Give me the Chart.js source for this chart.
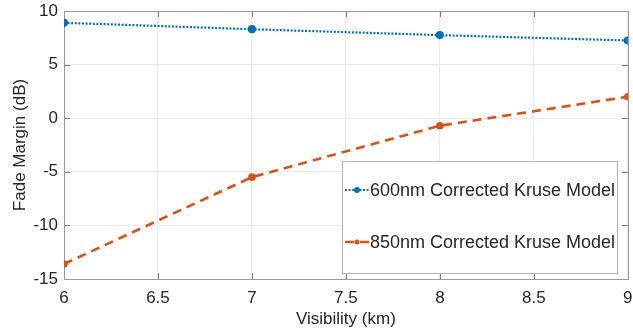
<!DOCTYPE html>
<html><head><meta charset="utf-8">
<script src="https://cdn.jsdelivr.net/npm/chart.js@4"></script>
<style>html,body{margin:0;padding:0;background:#fff}#wrap{width:633px;height:332px}</style>
</head><body><div id="wrap"><canvas id="c" width="633" height="332"></canvas></div>
<script>
const visibility = [6, 7, 8, 9];
const margin600 = [8.9, 8.3, 7.75, 7.25];
const margin850 = [-13.6, -5.5, -0.7, 2.0];
const xTickValues = [6, 6.5, 7, 7.5, 8, 8.5, 9];
const yTickValues = [-15, -10, -5, 0, 5, 10];
const seriesLabels = ['600nm Corrected Kruse Model', '850nm Corrected Kruse Model'];
const xTitle = 'Visibility (km)';
const yTitle = 'Fade Margin (dB)';

const FONT = "'Liberation Sans', Arial, Helvetica, sans-serif";
const TEXT = '#262626';

const boxPlugin = {
  id: 'box',
  beforeDatasetsDraw(chart) {
    const {ctx, chartArea: a, scales} = chart;
    ctx.save();
    ctx.strokeStyle = '#7a7a7a';
    ctx.lineWidth = 1;
    const tl = 6;
    ctx.beginPath();
    xTickValues.forEach(v => {
      const x = Math.round(scales.x.getPixelForValue(v)) + 0.5;
      ctx.moveTo(x, a.top); ctx.lineTo(x, a.top + tl);
      ctx.moveTo(x, a.bottom); ctx.lineTo(x, a.bottom - tl);
    });
    yTickValues.forEach(v => {
      const y = Math.round(scales.y.getPixelForValue(v)) + 0.5;
      ctx.moveTo(a.left, y); ctx.lineTo(a.left + tl, y);
      ctx.moveTo(a.right, y); ctx.lineTo(a.right - tl, y);
    });
    ctx.stroke();
    ctx.strokeStyle = '#9a9a9a';
    ctx.strokeRect(Math.round(a.left) + 0.5, Math.round(a.top) + 0.5,
      Math.round(a.right - a.left), Math.round(a.bottom - a.top));
    ctx.restore();
  }
};

const legendPlugin = {
  id: 'boxLegend',
  afterDatasetsDraw(chart) {
    const {ctx} = chart;
    const bx = 342, by = 161, bw = 275, bh = 112;
    ctx.save();
    ctx.fillStyle = '#fff';
    ctx.fillRect(bx, by, bw, bh);
    ctx.strokeStyle = '#b4b4b4';
    ctx.lineWidth = 1;
    ctx.strokeRect(bx + 0.5, by + 0.5, bw, bh);
    const rows = [190, 242];
    chart.data.datasets.forEach((ds, i) => {
      const y = rows[i];
      ctx.strokeStyle = ds.borderColor;
      ctx.lineWidth = ds.borderWidth;
      ctx.setLineDash(ds.borderDash);
      ctx.beginPath();
      ctx.moveTo(345, y); ctx.lineTo(369, y);
      ctx.stroke();
      ctx.setLineDash([]);
      ctx.fillStyle = ds.borderColor;
      ctx.beginPath();
      ctx.arc(357, y, ds.pointRadius, 0, Math.PI * 2);
      ctx.fill();
      ctx.fillStyle = TEXT;
      ctx.font = '18px ' + FONT;
      ctx.textBaseline = 'middle';
      ctx.textAlign = 'left';
      ctx.fillText(ds.label, 370, y + 1);
    });
    ctx.restore();
  }
};

new Chart(document.getElementById('c'), {
  type: 'scatter',
  data: {
    datasets: [
      {
        label: seriesLabels[0],
        data: visibility.map((v, i) => ({x: v, y: margin600[i]})),
        showLine: true,
        tension: 0,
        borderColor: '#0072BD',
        backgroundColor: '#0072BD',
        borderWidth: 2.2,
        borderDash: [2, 1.6],
        pointRadius: 3,
        pointHoverRadius: 3
      },
      {
        label: seriesLabels[1],
        data: visibility.map((v, i) => ({x: v, y: margin850[i]})),
        showLine: true,
        tension: 0,
        borderColor: '#D95319',
        backgroundColor: '#D95319',
        borderWidth: 2.6,
        borderDash: [9, 6],
        pointRadius: 2.5,
        pointHoverRadius: 2.5
      }
    ]
  },
  options: {
    responsive: false,
    devicePixelRatio: 1,
    animation: false,
    events: [],
    layout: {padding: {left: 0, right: 4, top: 11, bottom: 0}},
    plugins: {legend: {display: false}, tooltip: {enabled: false}},
    scales: {
      x: {
        type: 'linear', min: 6, max: 9,
        afterBuildTicks: s => { s.ticks = xTickValues.map(v => ({value: v})); },
        afterFit: s => { s.height = 53; s.paddingLeft = 0; s.paddingRight = 0; },
        ticks: {font: {family: FONT, size: 17}, color: TEXT, padding: 9, maxRotation: 0, autoSkip: false,
                callback: v => String(v)},
        grid: {color: '#ebebeb', drawTicks: false},
        border: {display: false},
        title: {display: true, text: xTitle, font: {family: FONT, size: 17}, color: TEXT, padding: {top: 0, bottom: 2}}
      },
      y: {
        type: 'linear', min: -15, max: 10,
        afterBuildTicks: s => { s.ticks = yTickValues.map(v => ({value: v})); },
        afterFit: s => { s.width = 64; s.paddingTop = 0; s.paddingBottom = 0; },
        ticks: {font: {family: FONT, size: 17}, color: TEXT, padding: 6, autoSkip: false,
                callback: v => String(v)},
        grid: {color: '#ebebeb', drawTicks: false},
        border: {display: false},
        title: {display: true, text: yTitle, font: {family: FONT, size: 17}, color: TEXT, padding: {top: 10, bottom: 0}}
      }
    }
  },
  plugins: [boxPlugin, legendPlugin]
});
</script>
</body></html>
